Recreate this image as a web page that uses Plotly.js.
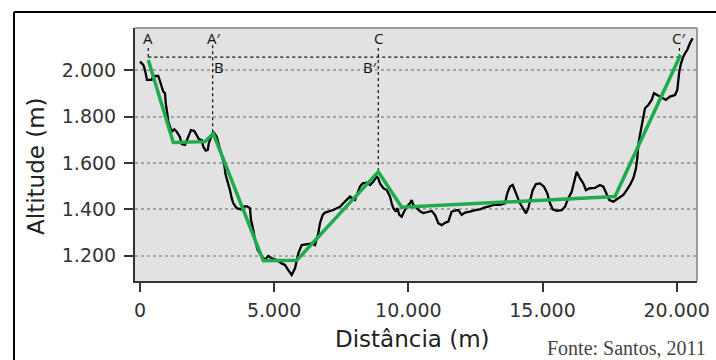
<!DOCTYPE html>
<html>
<head>
<meta charset="utf-8">
<script src="https://cdn.plot.ly/plotly-3.0.1.min.js"></script>
<style>html,body{margin:0;padding:0;background:#fff;}#chart{width:716px;height:360px;}</style>
</head>
<body>
<div id="chart"></div>
<script>
// Terrain profile (black) – distance (m) and altitude (m)
const distance = [0,123,186,250,260,436,496,682,745,809,868,932,958,1017,1055,1118,1181,1278,1368,1491,1554,1677,1778,1901,2023,2113,2199,2299,2359,2448,2523,2571,2672,2732,2858,2918,2981,3067,3141,3194,3268,3354,3417,3477,3604,3764,3850,3976,4099,4136,4222,4285,4386,4535,4658,4781,4908,5094,5280,5403,5526,5653,5776,5839,5899,6026,6212,6398,6521,6585,6644,6708,6808,6894,7017,7203,7330,7453,7576,7703,7826,8012,8098,8198,8299,8448,8571,8694,8821,8880,8944,9067,9194,9317,9380,9440,9540,9589,9663,9752,9838,9939,10062,10125,10185,10311,10434,10557,10695,10870,10993,11116,11243,11366,11489,11616,11739,11862,11988,12111,12297,12484,12670,12856,13043,13166,13415,13602,13687,13788,13888,13974,14060,14161,14284,14384,14470,14559,14634,14757,14906,15055,15178,15279,15379,15528,15714,15837,15960,16087,16210,16273,16396,16519,16620,16769,16956,17142,17265,17366,17489,17638,17824,18011,18137,18260,18383,18484,18532,18569,18632,18696,18755,18819,18942,19068,19154,19277,19441,19601,19750,19937,20022,20060,20097,20149,20224,20310,20396,20496,20597];
const altitude = [2037,2023,2001,1972,1958,1958,1975,1975,1951,1937,1908,1901,1859,1814,1778,1757,1735,1745,1735,1711,1682,1678,1711,1742,1738,1721,1702,1699,1670,1653,1656,1688,1721,1735,1713,1685,1656,1613,1591,1548,1519,1483,1448,1426,1405,1400,1411,1414,1405,1354,1311,1268,1225,1196,1184,1199,1189,1181,1167,1160,1138,1117,1146,1181,1210,1246,1249,1253,1246,1268,1297,1340,1376,1386,1390,1397,1405,1411,1426,1440,1455,1440,1469,1498,1512,1515,1505,1519,1541,1534,1512,1491,1483,1455,1426,1405,1390,1405,1376,1368,1390,1411,1426,1440,1419,1405,1392,1384,1389,1393,1376,1340,1332,1342,1347,1390,1394,1397,1376,1386,1390,1397,1400,1409,1414,1419,1419,1426,1469,1498,1505,1483,1455,1426,1405,1383,1405,1448,1483,1509,1512,1498,1469,1426,1400,1394,1397,1411,1448,1476,1534,1562,1534,1512,1483,1491,1493,1505,1498,1469,1440,1433,1448,1462,1483,1505,1534,1577,1620,1678,1721,1764,1807,1836,1850,1872,1901,1893,1879,1872,1886,1893,1915,1958,1994,2023,2052,2073,2088,2117,2138];

// Simplified profile (green)
const profileX = [309,1241,2422,2732,4595,5839,8880,9752,17701,20142];
const profileY = [2044,1688,1692,1727,1178,1180,1562,1409,1455,2066];

// Reference level (dotted) and label levels
const refLevel = 2056;
const guideTop = 2096;
const labelLevel = 2140;
const subLabelLevel = 2014;

// Tick values
const xTicks = [0,5000,10000,15000,20000];
const yTicks = [1200,1400,1600,1800,2000];

const iA = 0, iA2 = 3, iC = 6, iC2 = 9;

const dotted = {color:'#111', width:1.2, dash:'dot'};
const guides = [
  {x:[profileX[iA],profileX[iC2]], y:[refLevel,refLevel]},
  {x:[profileX[iA],profileX[iA]], y:[guideTop,refLevel]},
  {x:[profileX[iA2]-25,profileX[iA2]-25], y:[guideTop+12,profileY[iA2]]},
  {x:[profileX[iC],profileX[iC]], y:[guideTop,profileY[iC]]},
  {x:[profileX[iC2]-40,profileX[iC2]-40], y:[guideTop,refLevel]}
].map(g => ({type:'scatter', mode:'lines', x:g.x, y:g.y, line:dotted, hoverinfo:'skip', showlegend:false}));

const traces = guides.concat([
  {type:'scatter', mode:'lines', x:distance, y:altitude, line:{color:'#000', width:2.3}, showlegend:false},
  {type:'scatter', mode:'lines', x:profileX, y:profileY, line:{color:'#1cac4c', width:3.5}, showlegend:false}
]);

const lblFont = {family:'Open Sans, Noto Sans, sans-serif', size:15, color:'#111'};
function lbl(text, x, y, xanchor, xshift){
  return {text:text, x:x, y:y, xref:'x', yref:'y', showarrow:false, xanchor:xanchor||'center', yanchor:'middle', xshift:xshift||0, font:lblFont};
}

const layout = {
  width:716, height:360,
  margin:{l:135, r:19, t:28, b:79},
  paper_bgcolor:'#ffffff',
  plot_bgcolor:'#e2e2e2',
  separators:',.',
  showlegend:false,
  xaxis:{
    range:[-186,20757], tickvals:xTicks, tickformat:',',
    showgrid:false, zeroline:false,
    showline:true, linecolor:'#333', linewidth:2,
    ticks:'outside', ticklen:9, tickwidth:2, tickcolor:'#333',
    ticklabelstandoff:2,
    tickfont:{family:'DejaVu Sans, sans-serif', size:19, color:'#333'}
  },
  yaxis:{
    range:[1091,2182], tickvals:yTicks, tickformat:',',
    showgrid:true, gridcolor:'#a4a4a4', gridwidth:2, griddash:'dot',
    zeroline:false,
    showline:true, linecolor:'#333', linewidth:2,
    ticks:'outside', ticklen:9, tickwidth:2, tickcolor:'#333',
    ticklabelstandoff:4,
    tickfont:{family:'DejaVu Sans, sans-serif', size:19, color:'#333'}
  },
  shapes:[
    {type:'line', xref:'paper', yref:'paper', x0:1, x1:1, y0:0, y1:1, line:{color:'#9a9a9a', width:2}},
    {type:'line', xref:'paper', yref:'paper', x0:0, x1:1, y0:1, y1:1, line:{color:'#9a9a9a', width:2}},
    {type:'line', xref:'paper', yref:'paper', x0:-0.2153, x1:1.04, y0:1.0632, y1:1.0632, line:{color:'#000', width:2}},
    {type:'line', xref:'paper', yref:'paper', x0:-0.2153, x1:-0.2153, y0:1.0632, y1:-0.32, line:{color:'#000', width:2}}
  ],
  annotations:[
    lbl('A', profileX[iA], labelLevel),
    lbl('A\u2032', profileX[iA2], labelLevel),
    lbl('B', profileX[iA2], subLabelLevel, 'left', -1),
    lbl('C', profileX[iC], labelLevel),
    lbl('B\u2032', profileX[iC], subLabelLevel, 'right', 1),
    lbl('C\u2032', profileX[iC2], labelLevel, 'center', -2),
    {text:'Altitude (m)', xref:'paper', yref:'paper', x:-0.176, y:0.455, textangle:-90, showarrow:false,
     xanchor:'center', yanchor:'middle', font:{family:'DejaVu Sans, sans-serif', size:23, color:'#222'}},
    {text:'Distância (m)', xref:'paper', yref:'paper', x:0.4935, y:-0.23, showarrow:false,
     xanchor:'center', yanchor:'middle', font:{family:'DejaVu Sans, sans-serif', size:23, color:'#222'}},
    {text:'Fonte: Santos, 2011', xref:'paper', yref:'paper', x:1.0196, y:-0.265, showarrow:false,
     xanchor:'right', yanchor:'middle', font:{family:'Liberation Serif, serif', size:20, color:'#444'}}
  ]
};

Plotly.newPlot('chart', traces, layout, {staticPlot:true, displayModeBar:false});
</script>
</body>
</html>
